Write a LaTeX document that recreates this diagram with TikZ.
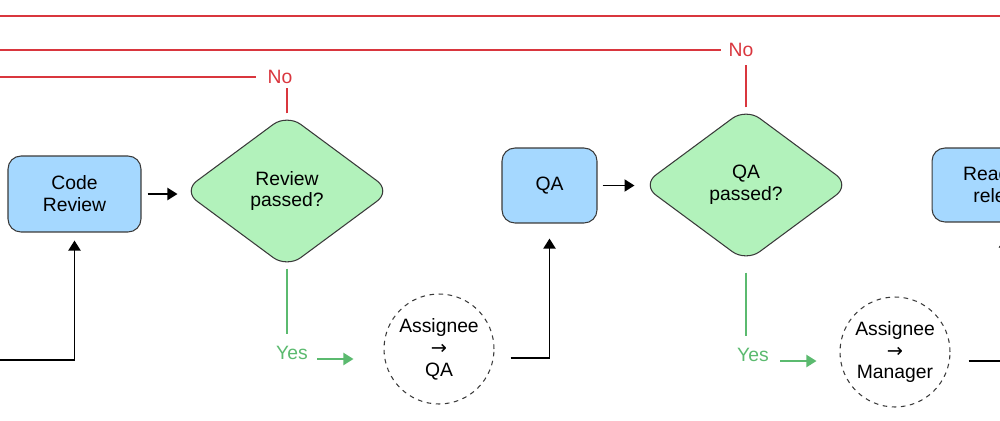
\documentclass[tikz,border=0pt]{standalone}
\usepackage{fontspec}
\setmainfont{Liberation Sans}
\newfontfamily\arrowfont{DejaVu Sans}
\usetikzlibrary{calc,shapes.geometric,arrows.meta}
\definecolor{boxblue}{HTML}{A5D8FF}
\definecolor{boxgreen}{HTML}{B2F2BB}
\definecolor{nored}{HTML}{D9363E}
\definecolor{yesgreen}{HTML}{5BBA6F}
\definecolor{edgegray}{HTML}{3A3A3A}
\tikzset{
  task/.style={draw=edgegray, line width=0.6pt, fill=boxblue, rounded corners=0.26cm, align=center, inner sep=0pt},
  check/.style={diamond, draw=edgegray, line width=0.6pt, fill=boxgreen, rounded corners=0.34cm,
    minimum width=4.16cm, minimum height=3.08cm, inner sep=0pt, align=center},
  handoff/.style={circle, draw=edgegray, line width=0.6pt, dash pattern=on 2.6pt off 2.6pt,
    minimum size=2.2cm, inner sep=0pt, align=center},
  tip/.style={-{Triangle[length=0.2cm,width=0.24cm]}},
  flow/.style={line width=1.1pt, tip},
  noline/.style={nored, line width=1.1pt},
  yesline/.style={yesgreen, line width=1.1pt},
  nolabel/.style={text=nored, inner sep=0pt},
  yeslabel/.style={text=yesgreen, inner sep=0pt},
}

\begin{document}
\begin{tikzpicture}[x=0.02cm, y=-0.02cm, every node/.style={font=\fontsize{11}{12.5}\selectfont}]
    % frame
    \useasboundingbox (0,0) rectangle (1000,420);
    \clip (0,0) rectangle (1000,420);
    % coordinates
    \coordinate (topwest) at (-20,16);
    \coordinate (topeast) at (1020,16);
    \coordinate (west) at (-20,0);
    \coordinate (entry) at (-20,360);
    % steps
    \node[task, minimum width=2.66cm, minimum height=1.52cm] (review) at (74.5,194) {Code\\Review};
    \node[check] (reviewok) at (287,191) {Review\\passed?};
    \node[task, minimum width=1.9cm, minimum height=1.5cm] (qa) at (549.5,185.5) {QA};
    \node[check] (qaok) at (746,185) {QA\\passed?};
    \node[task, minimum width=2.92cm, minimum height=1.48cm] (ready) at (1005,185) {Ready for\\release};
    % hand-offs
    \node[handoff] (toqa) at (439,349) {Assignee\\{\arrowfont →}\\QA};
    \node[handoff] (tomanager) at (895,352) {Assignee\\{\arrowfont →}\\Manager};
    % labels
    \node[nolabel] (reviewno) at (280,77) {No};
    \node[nolabel] (qano) at (741,50) {No};
    \node[yeslabel] (reviewyes) at (292,353) {Yes};
    \node[yeslabel] (qayes) at (753,355) {Yes};
    % main flow
    \draw[flow, shorten <=0.12cm, shorten >=0.1cm] (review.east) -- (review.east -| reviewok.west);
    \draw[flow, shorten <=0.1cm, shorten >=0.14cm] (qa.east) -- (qa.east -| qaok.west);
    \draw[flow, shorten >=0.16cm] (entry) -| (review.south);
    % no branches
    \draw[noline] (topwest) -- (topeast);
    \draw[noline, shorten >=0.08cm] (reviewok.north) -- (reviewok.north |- reviewno.south);
    \draw[noline, shorten >=0.22cm] (west |- reviewno.west) -- (reviewno.west);
    \draw[noline, shorten >=0.16cm] (qaok.north) -- (qaok.north |- qano.south);
    \draw[noline, shorten >=0.14cm] (west |- qano.west) -- (qano.west);
    % yes branches
    \draw[yesline, shorten >=0.24cm] (reviewok.south) -- (reviewok.south |- reviewyes.north);
    \draw[yesline, tip] ($(reviewyes.east)+(9,6)$) -- ($(toqa.west)+(-30,10)$);
    \draw[yesline, shorten <=0.2cm, shorten >=0.24cm] (qaok.south) -- (qaok.south |- qayes.north);
    \draw[yesline, tip] ($(qayes.east)+(11,6)$) -- ($(tomanager.west)+(-23,9)$);
    % hand-off arrows
    \draw[flow, shorten >=0.3cm] ($(toqa.east)+(16,9)$) -| (qa.south);
    \draw[flow, shorten >=0.3cm] ($(tomanager.east)+(18,9)$) -| (ready.south);
\end{tikzpicture}
\end{document}
